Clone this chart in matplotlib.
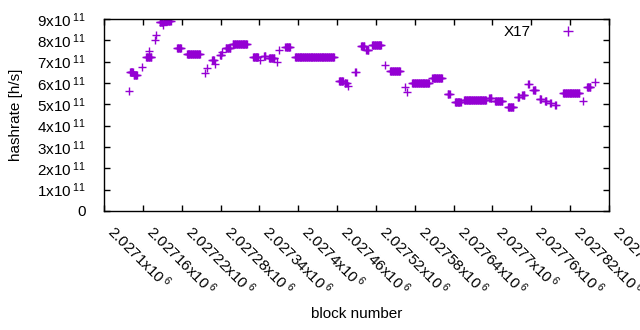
import numpy as np
import matplotlib
matplotlib.use("Agg")
import matplotlib.pyplot as plt

plt.rcParams['font.family'] = ['Liberation Sans', 'DejaVu Sans']
plt.rcParams['mathtext.fontset'] = 'custom'
plt.rcParams['mathtext.rm'] = 'Liberation Sans'
plt.rcParams['mathtext.it'] = 'Liberation Sans'

# runs of constant hashrate: first block, last block, hashrate (x10^11 h/s)
run_start = [2027139, 2027140, 2027146, 2027159, 2027165, 2027170, 2027179, 2027180,
             2027186, 2027191, 2027192, 2027213, 2027228, 2027256, 2027259, 2027267,
             2027271, 2027279, 2027282, 2027288, 2027299, 2027330, 2027341, 2027347,
             2027355, 2027367, 2027370, 2027380, 2027395, 2027463, 2027472, 2027477,
             2027488, 2027497, 2027505, 2027514, 2027534, 2027542, 2027565, 2027568,
             2027576, 2027607, 2027631, 2027642, 2027656, 2027695, 2027704, 2027724,
             2027739, 2027746, 2027755, 2027763, 2027773, 2027781, 2027789, 2027797,
             2027809, 2027840, 2027846, 2027858]
run_end = [2027139, 2027145, 2027151, 2027159, 2027173, 2027170, 2027179, 2027180,
           2027190, 2027191, 2027203, 2027219, 2027248, 2027256, 2027259, 2027270,
           2027271, 2027281, 2027282, 2027295, 2027321, 2027338, 2027341, 2027349,
           2027363, 2027367, 2027370, 2027387, 2027455, 2027469, 2027475, 2027477,
           2027489, 2027502, 2027508, 2027528, 2027534, 2027557, 2027565, 2027568,
           2027602, 2027622, 2027634, 2027651, 2027690, 2027698, 2027715, 2027732,
           2027741, 2027749, 2027756, 2027766, 2027775, 2027783, 2027790, 2027798,
           2027834, 2027840, 2027851, 2027858]
run_value = [5.63, 6.52, 6.38, 6.76, 7.20, 7.50, 8.02, 8.25,
             8.87, 8.72, 8.92, 7.63, 7.35, 6.47, 6.70, 7.08,
             6.89, 7.31, 7.45, 7.65, 7.81, 7.20, 7.08, 7.27,
             7.16, 7.00, 7.55, 7.67, 7.20, 6.11, 5.99, 5.86,
             6.53, 7.75, 7.55, 7.78, 6.84, 6.56, 5.81, 5.59,
             6.01, 6.22, 5.48, 5.13, 5.20, 5.30, 5.16, 4.89,
             5.33, 5.44, 5.95, 5.67, 5.25, 5.17, 5.08, 4.97,
             5.52, 5.17, 5.80, 6.06]

x_ticks = [2027100, 2027160, 2027220, 2027280, 2027340, 2027400, 2027460,
           2027520, 2027580, 2027640, 2027700, 2027760, 2027820, 2027880]
x_tick_mantissa = ['2.0271', '2.02716', '2.02722', '2.02728', '2.02734', '2.0274', '2.02746',
                   '2.02752', '2.02758', '2.02764', '2.0277', '2.02776', '2.02782', '2.02788']
y_ticks = [0, 1, 2, 3, 4, 5, 6, 7, 8, 9]

# one point per block
blocks = np.concatenate([np.arange(s, e + 1) for s, e in zip(run_start, run_end)])
hashrate = np.concatenate([np.full(e - s + 1, v * 1e11) for s, e, v in zip(run_start, run_end, run_value)])

fig = plt.figure(figsize=(6.4, 3.3), dpi=100)
ax = fig.add_axes([104 / 640, 1 - 211 / 330, 505 / 640, 192 / 330])

ax.plot(blocks, hashrate, linestyle='none', marker='+', color='#9400D3',
        markersize=6, markeredgewidth=1.0, label='X17')

ax.set_xlim(x_ticks[0], x_ticks[-1])
ax.set_ylim(0, 9e11)
ax.set_xticks(x_ticks)
ax.set_xticklabels([m + r'x10$^{\;6}$' for m in x_tick_mantissa],
                   rotation=-45, ha='left', va='top', rotation_mode='default')
ax.set_yticks([v * 1e11 for v in y_ticks])
ax.set_yticklabels(['0'] + [f'{v}x10' + r'$^{\;11}$' for v in y_ticks[1:]])
ax.tick_params(direction='in', top=True, right=True, length=4, width=1, labelsize=11, colors='black')
ax.tick_params(axis='y', pad=13)
ax.tick_params(axis='x', pad=8)
for sp in ax.spines.values():
    sp.set_linewidth(1)

ax.set_xlabel('block number', fontsize=11)
ax.set_ylabel('hashrate [h/s]', fontsize=11)
ax.xaxis.set_label_coords(0.5, -(307 - 211) / 192)
ax.yaxis.set_label_coords((23 - 104) / 505, 0.5)

ax.legend(loc='center right', bbox_to_anchor=((595 - 104) / 505, (211 - 32) / 192),
          frameon=False, markerfirst=False, handlelength=3.6, handletextpad=0.6,
          borderpad=0, borderaxespad=0, fontsize=11, markerscale=1.2)

fig.savefig('out.png', dpi=100)
